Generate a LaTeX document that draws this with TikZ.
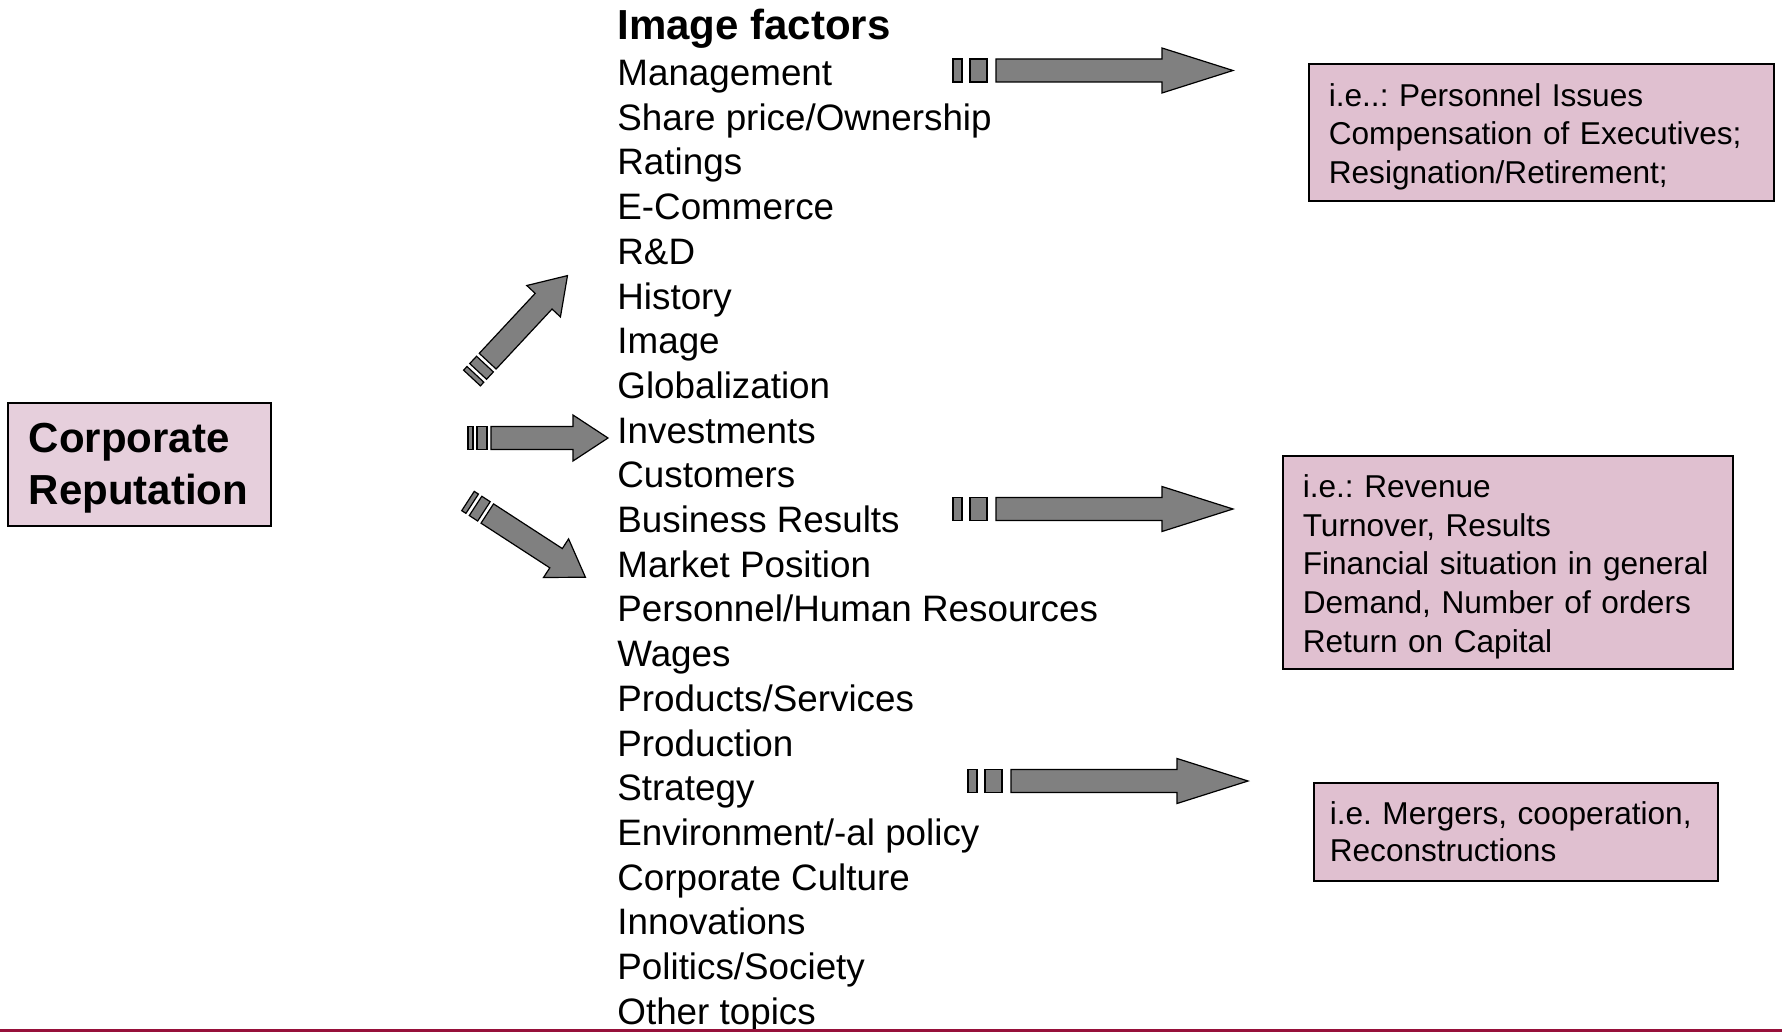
\documentclass[tikz,border=0pt]{standalone}
\usepackage{fontspec}
\setmainfont{Liberation Sans}
\usepackage{tikz}

\frenchspacing
\hyphenpenalty=10000
\exhyphenpenalty=10000

\definecolor{boxpink}{RGB}{224,192,208}
\definecolor{lightpink}{RGB}{230,207,220}
\definecolor{arrowgray}{RGB}{128,128,128}
\definecolor{maroon}{RGB}{150,16,58}

\newcommand{\boxstrut}{\rule{0pt}{15.8pt}}

\tikzset{
	factor/.style={anchor=base west, inner sep=0pt, font=\fontsize{18.4}{22}\selectfont},
	heading/.style={anchor=base west, inner sep=0pt, font=\fontsize{21}{25}\selectfont\bfseries},
	infobox/.style={draw=black, line width=0.8pt, fill=boxpink, anchor=north west, align=left, inner xsep=10pt, inner ysep=0pt,
		font=\fontsize{15.8}{19.3}\selectfont},
	arrowpart/.style={draw=black, line width=0.6pt, fill=arrowgray, line join=miter},
	pics/longarrow/.style={code={
		\path[arrowpart] (0,-11.5) rectangle (9,11.5);
		\path[arrowpart] (17,-11.5) rectangle (34,11.5);
		\path[arrowpart] (43,-11.5) -- (209,-11.5) -- (209,-22.5) -- (280,0) -- (209,22.5) -- (209,11.5) -- (43,11.5) -- cycle;
	}},
	pics/shortarrow/.style={code={
		\path[arrowpart] (0,-11.5) rectangle (5,11.5);
		\path[arrowpart] (9,-11.5) rectangle (19,11.5);
		\path[arrowpart] (23,-11.5) -- (105,-11.5) -- (105,-23) -- (140,0) -- (105,23) -- (105,11.5) -- (23,11.5) -- cycle;
	}}
}

\begin{document}
\begin{tikzpicture}[x=0.5pt, y=-0.5pt]
	\useasboundingbox (0,0) rectangle (1782,1032);
	
	% left box
	\node[infobox, fill=lightpink, inner xsep=10.5pt, text width=110.5pt, minimum height=61.5pt,
		font=\fontsize{21}{26}\selectfont\bfseries] (reputation) at (7,402) {\rule{0pt}{19pt}Corporate\\Reputation};
	
	% list of factors
	\node[heading] (factors)     at (617, 40)     {Image factors};
	\node[factor]  (mgmt)        at (617, 85.5)   {Management};
	\node[factor]  (share)       at (617, 130.2)  {Share price/Ownership};
	\node[factor]  (ratings)     at (617, 174.9)  {Ratings};
	\node[factor]  (ecom)        at (617, 219.6)  {E-Commerce};
	\node[factor]  (rnd)         at (617, 264.3)  {R\&D};
	\node[factor]  (history)     at (617, 309)    {History};
	\node[factor]  (image)       at (617, 353.7)  {Image};
	\node[factor]  (global)      at (617, 398.4)  {Globalization};
	\node[factor]  (invest)      at (617, 443.1)  {Investments};
	\node[factor]  (customers)   at (617, 487.8)  {Customers};
	\node[factor]  (results)     at (617, 532.5)  {Business Results};
	\node[factor]  (market)      at (617, 577.2)  {Market Position};
	\node[factor]  (personnel)   at (617, 621.9)  {Personnel/Human Resources};
	\node[factor]  (wages)       at (617, 666.6)  {Wages};
	\node[factor]  (products)    at (617, 711.3)  {Products/Services};
	\node[factor]  (production)  at (617, 756)    {Production};
	\node[factor]  (strategy)    at (617, 800.7)  {Strategy};
	\node[factor]  (environment) at (617, 845.4)  {Environment/-al policy};
	\node[factor]  (culture)     at (617, 890.1)  {Corporate Culture};
	\node[factor]  (innovations) at (617, 934.8)  {Innovations};
	\node[factor]  (politics)    at (617, 979.5)  {Politics/Society};
	\node[factor]  (other)       at (617, 1024.2) {Other topics};
	
	% example boxes
	\node[infobox, text width=212.5pt, minimum height=68.5pt] (personnelbox) at (1308,63)
		{\boxstrut i.e..: Personnel Issues\\Compensation of Executives;\\Resignation/Retirement;};
	\node[infobox, text width=205pt, minimum height=106.5pt] (resultsbox) at (1282,455)
		{\boxstrut i.e.: Revenue\\Turnover, Results\\Financial situation in general\\Demand, Number of orders\\Return on Capital};
	\node[infobox, inner xsep=8pt, text width=186pt, minimum height=49pt, font=\fontsize{15.8}{18.75}\selectfont] (strategybox) at (1313,782)
		{i.e. Mergers, cooperation,\\Reconstructions};
	
	% block arrows
	\pic[rotate=47]  at (472,378)   {shortarrow};
	\pic             at (468,438)   {shortarrow};
	\pic[rotate=-33] at (468,501)   {shortarrow};
	\pic             at (953,70.5)  {longarrow};
	\pic             at (953,509)   {longarrow};
	\pic             at (968,781)   {longarrow};
	
	% bottom rule
	\draw[maroon, line width=1.5pt] (0,1030.5) -- (1782,1030.5);
	
\end{tikzpicture}
\end{document}
